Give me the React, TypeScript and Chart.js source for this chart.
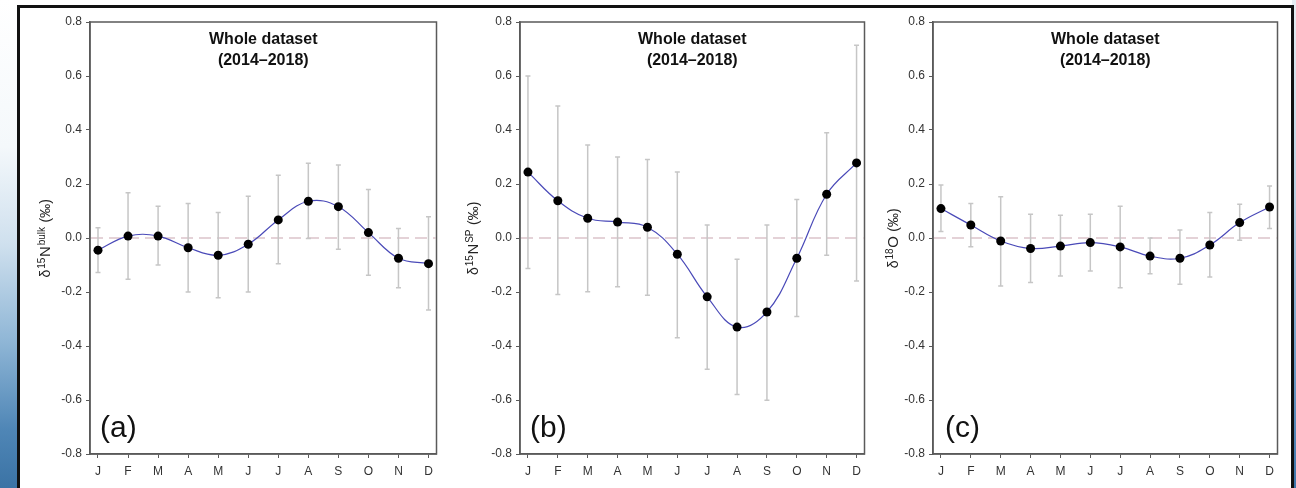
import React, { useEffect, useRef } from "react";
import { Chart, registerables } from "chart.js";

Chart.register(...registerables);

const months = ["J", "F", "M", "A", "M", "J", "J", "A", "S", "O", "N", "D"];
const titleLines = ["Whole dataset", "(2014\u20132018)"];

// Panel (a): d15N bulk
const bulkMean = [-0.045, 0.007, 0.007, -0.036, -0.064, -0.023, 0.067, 0.136, 0.116, 0.02, -0.075, -0.095];
const bulkHigh = [0.038, 0.168, 0.118, 0.128, 0.094, 0.155, 0.232, 0.277, 0.27, 0.18, 0.035, 0.079];
const bulkLow = [-0.128, -0.153, -0.1, -0.2, -0.221, -0.2, -0.095, -0.002, -0.042, -0.138, -0.184, -0.267];

// Panel (b): d15N SP
const spMean = [0.244, 0.138, 0.073, 0.059, 0.04, -0.06, -0.218, -0.33, -0.274, -0.075, 0.162, 0.278];
const spHigh = [0.6, 0.489, 0.344, 0.3, 0.291, 0.244, 0.048, -0.079, 0.048, 0.143, 0.39, 0.714];
const spLow = [-0.113, -0.209, -0.199, -0.181, -0.212, -0.369, -0.486, -0.58, -0.601, -0.291, -0.064, -0.159];

// Panel (c): d18O
const oMean = [0.109, 0.048, -0.011, -0.039, -0.03, -0.017, -0.033, -0.067, -0.075, -0.026, 0.057, 0.115];
const oHigh = [0.196, 0.128, 0.153, 0.088, 0.084, 0.088, 0.118, 0.0, 0.03, 0.094, 0.125, 0.193];
const oLow = [0.024, -0.032, -0.178, -0.165, -0.141, -0.122, -0.184, -0.132, -0.171, -0.144, -0.008, 0.035];

type Part = [string, number, boolean];

const bulkLabel: Part[] = [["\u03b4", 14, false], ["15", 10, true], ["N", 15, false], ["bulk", 10, true], [" (\u2030)", 14, false]];
const spLabel: Part[] = [["\u03b4", 14, false], ["15", 10, true], ["N", 15, false], ["SP", 10, true], [" (\u2030)", 14, false]];
const oLabel: Part[] = [["\u03b4", 14, false], ["18", 10, true], ["O", 15, false], [" (\u2030)", 14, false]];

const FONT = "'Liberation Sans', Arial, Helvetica, sans-serif";

interface PanelCfg {
  mean: number[];
  high: number[];
  low: number[];
  tag: string;
  label: Part[];
  left: number;
  plotW: number;
  labelX: number;
  tagX: number;
}

const panels: PanelCfg[] = [
  { mean: bulkMean, high: bulkHigh, low: bulkLow, tag: "(a)", label: bulkLabel, left: 20, plotW: 347, labelX: -40, tagX: 10 },
  { mean: spMean, high: spHigh, low: spLow, tag: "(b)", label: spLabel, left: 450, plotW: 345, labelX: -42, tagX: 10 },
  { mean: oMean, high: oHigh, low: oLow, tag: "(c)", label: oLabel, left: 863, plotW: 345, labelX: -35, tagX: 12 },
];

const AXIS_W = 70;
const PAD_R = 4;
const CANVAS_TOP = 8;
const CANVAS_H = 478;

function makeOverlay(cfg: PanelCfg) {
  return {
    id: "overlay",
    beforeDatasetsDraw(chart: any) {
      const { ctx, chartArea, scales } = chart;
      const x = scales.x;
      const y = scales.y;
      ctx.save();
      // dashed zero line
      const y0 = y.getPixelForValue(0);
      ctx.strokeStyle = "#dbc3ca";
      ctx.lineWidth = 1.6;
      ctx.setLineDash([12, 6]);
      ctx.beginPath();
      ctx.moveTo(chartArea.left + 1, y0);
      ctx.lineTo(chartArea.right - 1, y0);
      ctx.stroke();
      ctx.setLineDash([]);
      // error bars
      ctx.strokeStyle = "#c6c6c6";
      ctx.lineWidth = 1.5;
      cfg.high.forEach((h, i) => {
        const px = x.getPixelForValue(i);
        const pt = y.getPixelForValue(h);
        const pb = y.getPixelForValue(cfg.low[i]);
        ctx.beginPath();
        ctx.moveTo(px, pt);
        ctx.lineTo(px, pb);
        ctx.moveTo(px - 2.5, pt);
        ctx.lineTo(px + 2.5, pt);
        ctx.moveTo(px - 2.5, pb);
        ctx.lineTo(px + 2.5, pb);
        ctx.stroke();
      });
      ctx.restore();
    },
    afterDraw(chart: any) {
      const { ctx, chartArea } = chart;
      ctx.save();
      // plot frame
      ctx.strokeStyle = "#5a5a5a";
      ctx.lineWidth = 1.5;
      ctx.strokeRect(chartArea.left, chartArea.top, chartArea.right - chartArea.left, chartArea.bottom - chartArea.top);
      // title
      const cx = (chartArea.left + chartArea.right) / 2;
      ctx.fillStyle = "#111";
      ctx.font = `bold 16px ${FONT}`;
      ctx.textAlign = "center";
      ctx.textBaseline = "middle";
      ctx.fillText(titleLines[0], cx, chartArea.top + 17.5);
      ctx.fillText(titleLines[1], cx, chartArea.top + 38.5);
      // panel tag
      ctx.font = `30px ${FONT}`;
      ctx.textAlign = "left";
      ctx.fillStyle = "#111";
      ctx.fillText(cfg.tag, chartArea.left + cfg.tagX, chartArea.bottom - 25);
      // y-axis title (rotated, with superscripts)
      const parts = cfg.label;
      let total = 0;
      const widths = parts.map(([t, s, sup]) => {
        ctx.font = `${s}px ${FONT}`;
        const w = ctx.measureText(t).width + (sup ? 1.0 : 0.5);
        total += w;
        return w;
      });
      ctx.translate(chartArea.left + cfg.labelX, (chartArea.top + chartArea.bottom) / 2);
      ctx.rotate(-Math.PI / 2);
      ctx.textAlign = "left";
      ctx.textBaseline = "alphabetic";
      ctx.fillStyle = "#222";
      let pos = -total / 2;
      parts.forEach(([t, s, sup], i) => {
        ctx.font = `${s}px ${FONT}`;
        ctx.fillText(t, pos + (sup ? 0.3 : 0), sup ? -5.5 : 0);
        pos += widths[i];
      });
      ctx.restore();
    },
  };
}

function Panel({ cfg }: { cfg: PanelCfg }) {
  const ref = useRef<HTMLCanvasElement | null>(null);
  const width = AXIS_W + cfg.plotW + PAD_R;
  useEffect(() => {
    if (!ref.current) return;
    const chart = new Chart(ref.current, {
      type: "line",
      data: {
        datasets: [
          {
            data: cfg.mean.map((v, i) => ({ x: i, y: v })),
            borderColor: "#4a4ab8",
            borderWidth: 1.2,
            tension: 0.4,
            pointRadius: 4.5,
            pointBackgroundColor: "#000",
            pointBorderColor: "#000",
            pointBorderWidth: 0,
            fill: false,
          },
        ],
      },
      options: {
        animation: false,
        responsive: false,
        devicePixelRatio: 1,
        events: [],
        layout: { padding: { top: 14, right: PAD_R, left: 0, bottom: 4 } },
        plugins: { legend: { display: false }, tooltip: { enabled: false }, title: { display: false } },
        scales: {
          x: {
            type: "linear",
            min: -0.266,
            max: 11.266,
            afterBuildTicks: (s: any) => {
              s.ticks = months.map((_, i) => ({ value: i }));
            },
            afterFit: (s: any) => {
              s.height = 28;
            },
            ticks: {
              autoSkip: false,
              maxRotation: 0,
              padding: 6,
              color: "#333",
              font: { family: FONT, size: 12 },
              callback: (v: any) => months[Math.round(Number(v))] ?? "",
            },
            grid: { drawOnChartArea: false, drawTicks: true, tickLength: 4, color: "#5a5a5a", lineWidth: 1 },
            border: { display: true, color: "#5a5a5a", width: 1.5 },
          },
          y: {
            type: "linear",
            min: -0.8,
            max: 0.8,
            afterFit: (s: any) => {
              s.width = AXIS_W;
            },
            ticks: {
              stepSize: 0.2,
              padding: 4,
              color: "#333",
              font: { family: FONT, size: 12 },
              callback: (v: any) => {
                const n = Number(v);
                return Math.abs(n) < 1e-9 ? "0.0" : n.toFixed(1);
              },
            },
            grid: { drawOnChartArea: false, drawTicks: true, tickLength: 4, color: "#5a5a5a", lineWidth: 1 },
            border: { display: true, color: "#5a5a5a", width: 1.5 },
          },
        },
      },
      plugins: [makeOverlay(cfg)],
    } as any);
    return () => chart.destroy();
  }, [cfg]);
  return (
    <canvas
      ref={ref}
      width={width}
      height={CANVAS_H}
      style={{ position: "absolute", left: cfg.left, top: CANVAS_TOP, width, height: CANVAS_H }}
    />
  );
}

export default function App() {
  return (
    <div style={{ position: "absolute", left: 0, top: 0, width: 1296, height: 488, overflow: "hidden", background: "#fff" }}>
      <div
        style={{
          position: "absolute",
          left: 0,
          top: 0,
          width: 18,
          height: 488,
          background: "linear-gradient(to bottom, #ffffff 0%, #f4f8fb 30%, #cfe0ee 50%, #8fb6d6 70%, #4f86b6 88%, #3b73a5 100%)",
        }}
      />
      <div
        style={{
          position: "absolute",
          left: 1292,
          top: 0,
          width: 4,
          height: 488,
          background: "linear-gradient(to bottom, #e6edf3 0%, #b9cfe2 40%, #6f9cc6 75%, #3d75aa 100%)",
        }}
      />
      <div
        style={{
          position: "absolute",
          left: 17,
          top: 5,
          width: 1277,
          height: 520,
          boxSizing: "border-box",
          border: "3px solid #111",
          background: "#fff",
        }}
      />
      {panels.map((p) => (
        <Panel key={p.tag} cfg={p} />
      ))}
    </div>
  );
}
